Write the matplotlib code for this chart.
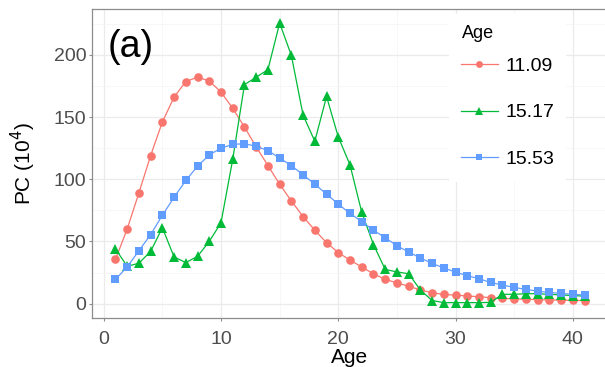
import numpy as np
import matplotlib
matplotlib.use("Agg")
import matplotlib.pyplot as plt
from matplotlib.patches import Rectangle
from matplotlib.ticker import MultipleLocator

# Data
age = np.arange(1, 42)

pc_1109 = [35.5, 60, 89, 119, 146, 166, 178.5, 182, 179, 170,
           157, 142, 126, 111, 96, 82.5, 70, 59, 49, 41,
           35, 29.5, 24, 19.5, 16.7, 14, 11, 8.7, 7.4, 6.8,
           6.2, 5.5, 4.8, 4.2, 3.8, 3.5, 3.2, 3, 2.8, 2.6, 2.5]

pc_1517 = [44, 30, 32.5, 42, 61, 37.5, 33, 38, 50, 65,
           116, 176, 182, 188, 225.5, 199.5, 151.5, 130.5, 166.5, 134,
           111.5, 73.5, 47.5, 27.5, 25.5, 24, 11, 2.5, 0.8, 0.8,
           0.8, 0.8, 1, 7.5, 7.5, 8, 8, 7.5, 7, 6.5, 6]

pc_1553 = [19.5, 29.5, 42.5, 55.5, 71, 85.5, 99, 110.5, 119.5, 125,
           128, 128.5, 126.5, 123, 117, 111, 103.5, 96, 88, 80,
           72.5, 66, 59, 53, 46.5, 41.5, 36.7, 32.3, 28.7, 25.3,
           22.5, 20, 17, 15, 13, 11.5, 10, 9, 8.2, 7.5, 7]

labels = ["11.09", "15.17", "15.53"]
colors = ["#F8766D", "#00BA38", "#619CFF"]
markers = ["o", "^", "s"]

plt.rcParams["font.family"] = ["Liberation Sans", "DejaVu Sans"]

fig = plt.figure(figsize=(6.05, 3.67), dpi=100)
ax = fig.add_axes([92 / 605, 1 - 317.7 / 367, (608 - 92) / 605, (317.7 - 9) / 367])
ax.set_facecolor("white")

msizes = [6.2, 7.5, 6.2]
for series, lab, col, mk, ms in zip([pc_1109, pc_1517, pc_1553], labels, colors, markers, msizes):
    ax.plot(age, series, color=col, lw=0.9, marker=mk, markersize=ms,
            markeredgewidth=0, label=lab, zorder=3)

ax.set_xlim(-1, 43)
ax.set_ylim(-11.3, 236.8)
ax.xaxis.set_major_locator(MultipleLocator(10))
ax.xaxis.set_minor_locator(MultipleLocator(5))
ax.yaxis.set_major_locator(MultipleLocator(50))
ax.yaxis.set_minor_locator(MultipleLocator(25))

ax.grid(which="major", color="#EBEBEB", lw=0.9, zorder=0)
ax.grid(which="minor", color="#F4F4F4", lw=0.5, zorder=0)
ax.set_axisbelow(True)

for s in ax.spines.values():
    s.set_color("#8c8c8c")
    s.set_linewidth(0.9)

ax.tick_params(which="major", length=2.5, width=0.8, color="#8c8c8c",
               labelsize=14, labelcolor="#4D4D4D")
ax.tick_params(axis="x", which="major", pad=7)
ax.tick_params(axis="y", which="major", pad=1.5)
ax.tick_params(which="minor", length=0)

ax.set_xlabel("Age", fontsize=15, color="black", labelpad=0)
ax.set_ylabel("PC (10$^4$)", fontsize=15, color="black")
ax.yaxis.set_label_coords(-(92 - 38) / 516, 0.5)

ax.text(108 / 605, 1 - 47 / 367, "(a)", transform=fig.transFigure,
        fontsize=27, va="center", ha="left")

# white legend background box (covers gridlines like ggplot's inside legend)
ax.add_patch(Rectangle((449 / 605, 1 - 182 / 367), 117 / 605, 168 / 367,
                       transform=fig.transFigure, facecolor="white",
                       edgecolor="none", zorder=1, clip_on=False))

leg = ax.legend(loc="upper left",
                bbox_to_anchor=(459 / 605, 1 - 55 / 367),
                bbox_transform=fig.transFigure, borderaxespad=0,
                fontsize=14, handlelength=1.9, handletextpad=0.4,
                labelspacing=1.5, markerscale=0.8, frameon=False,
                borderpad=0.1)
leg.set_zorder(5)
ax.text(462 / 605, 1 - 33 / 367, "Age", transform=fig.transFigure,
        fontsize=13, va="center", ha="left", zorder=5)

fig.savefig("out.png", dpi=100)
